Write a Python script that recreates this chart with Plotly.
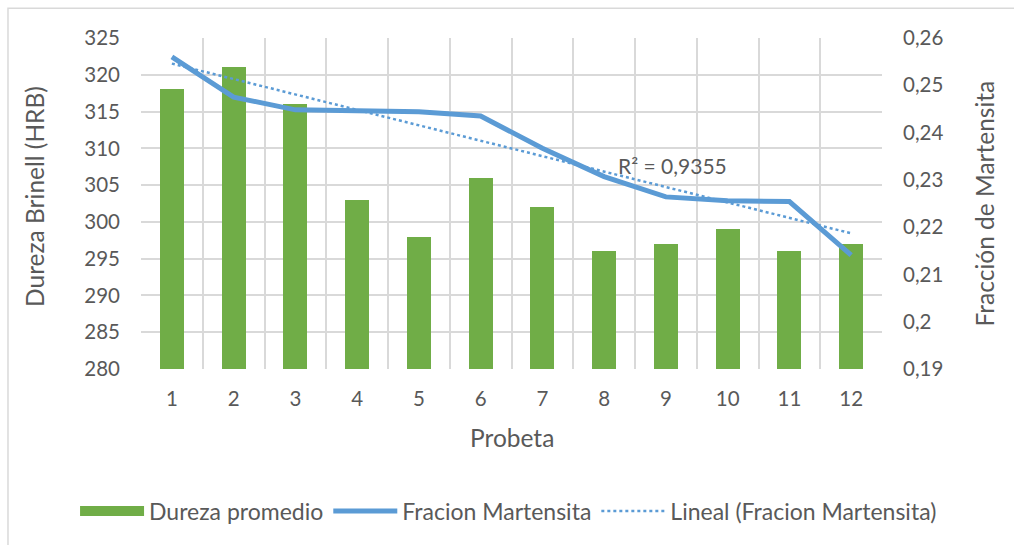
import numpy as np
import plotly.graph_objects as go

# Probeta numbers
probetas = [1, 2, 3, 4, 5, 6, 7, 8, 9, 10, 11, 12]
# Average Brinell hardness per specimen (left axis)
dureza_promedio = [318, 321, 316, 303, 298, 306, 302, 296, 297, 299, 296, 297]
# Martensite fraction per specimen (right axis)
fracion_martensita = [0.2560, 0.2475, 0.2448, 0.2446, 0.2444, 0.2435,
                      0.2367, 0.2307, 0.2264, 0.2256, 0.2254, 0.2141]

left_ticks = [280, 285, 290, 295, 300, 305, 310, 315, 320, 325]
right_ticks = [0.19, 0.20, 0.21, 0.22, 0.23, 0.24, 0.25, 0.26]
right_tick_text = ["0,19", "0,2", "0,21", "0,22", "0,23", "0,24", "0,25", "0,26"]
r2_label = "R² = 0,9355"

GREEN = "#70AD47"
BLUE = "#5B9BD5"
TEXT = "#595959"
GRID = "#D9D9D9"
FONT = "Lato"

# Linear trendline of the martensite fraction
slope, intercept = np.polyfit(probetas, fracion_martensita, 1)
trend = [slope * x + intercept for x in probetas]

fig = go.Figure()
fig.add_trace(go.Bar(
    x=probetas, y=dureza_promedio, name="Dureza promedio",
    marker=dict(color=GREEN, line=dict(width=0)), width=0.39, yaxis="y",
    showlegend=False,
))
# Legend entry for the bars, drawn as a wide block like a spreadsheet legend
fig.add_trace(go.Scatter(
    x=[None], y=[None], name="Dureza promedio", mode="lines",
    line=dict(color=GREEN, width=14), hoverinfo="skip",
))
fig.add_trace(go.Scatter(
    x=probetas, y=fracion_martensita, name="Fracion Martensita",
    mode="lines", line=dict(color=BLUE, width=5), yaxis="y2",
))
fig.add_trace(go.Scatter(
    x=probetas, y=trend, name="Lineal (Fracion Martensita)",
    mode="lines", line=dict(color=BLUE, width=2.5, dash="dot"), yaxis="y2",
))

boundaries = [p - 0.5 for p in probetas] + [probetas[-1] + 0.5]

fig.update_layout(
    width=1014, height=545,
    margin=dict(l=141, r=132, t=38, b=176),
    paper_bgcolor="white", plot_bgcolor="white",
    font=dict(family=FONT, size=20.5, color=TEXT),
    separators=",.",
    bargap=0,
    xaxis=dict(
        range=[0.5, 12.5], tickvals=probetas, showgrid=False,
        showline=False, zeroline=False, ticks="", ticklabelstandoff=15,
        minor=dict(tickvals=boundaries, showgrid=True, gridcolor=GRID, gridwidth=1.5),
    ),
    yaxis=dict(
        range=[280, 325], tickvals=left_ticks, showgrid=True, gridcolor=GRID,
        gridwidth=1.5, zeroline=False, showline=False, ticks="",
        ticklabelstandoff=20,
    ),
    yaxis2=dict(
        range=[0.19, 0.26], tickvals=right_ticks, ticktext=right_tick_text,
        overlaying="y", side="right", showgrid=False, zeroline=False,
        showline=False, ticks="", ticklabelstandoff=20,
    ),
    legend=dict(
        orientation="h", xref="paper", yref="paper",
        x=-0.089, xanchor="left", y=-0.429, yanchor="middle",
        font=dict(size=23, color=TEXT), itemwidth=64,
        traceorder="normal", bgcolor="rgba(0,0,0,0)",
    ),
    showlegend=True,
)

fig.add_annotation(
    text="Dureza Brinell (HRB)", textangle=-90, xref="paper", yref="paper",
    x=-0.143, y=0.52, showarrow=False, font=dict(size=24.5, color=TEXT),
    xanchor="center", yanchor="middle",
)
fig.add_annotation(
    text="Fracción de Martensita", textangle=-90, xref="paper", yref="paper",
    x=1.139, y=0.5, showarrow=False, font=dict(size=24.5, color=TEXT),
    xanchor="center", yanchor="middle",
)
fig.add_annotation(
    text="Probeta", xref="paper", yref="paper", x=0.5, y=-0.208,
    showarrow=False, font=dict(size=24.5, color=TEXT),
    xanchor="center", yanchor="middle",
)
fig.add_annotation(
    text=r2_label, xref="paper", yref="paper", x=0.7166, y=0.616,
    showarrow=False, font=dict(size=21, color=TEXT),
    xanchor="center", yanchor="middle",
)

# Chart area border
fig.add_shape(
    type="rect", xref="paper", yref="paper",
    x0=-0.1795, x1=1.5, y0=-0.8, y1=1.09,
    line=dict(color=GRID, width=1.5), fillcolor="rgba(0,0,0,0)", layer="below",
)

fig.write_html("out.html")
